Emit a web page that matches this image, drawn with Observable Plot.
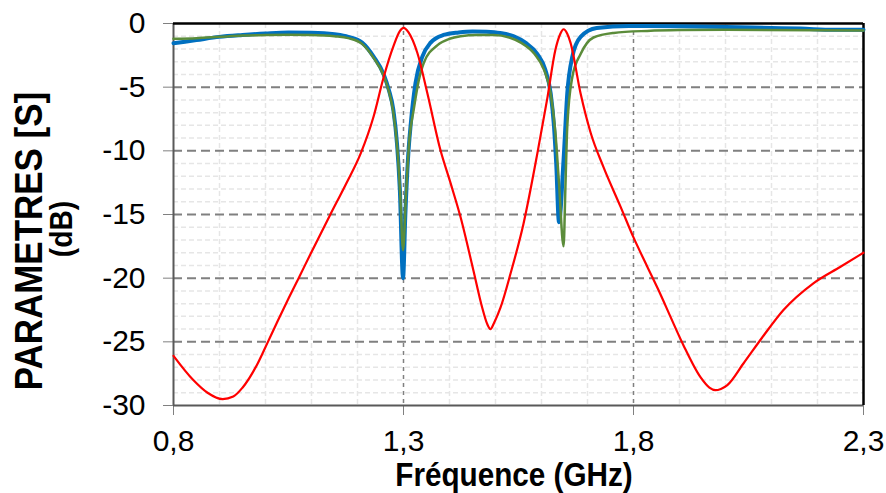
<!DOCTYPE html>
<html>
<head>
<meta charset="utf-8">
<script src="https://cdn.jsdelivr.net/npm/d3@7"></script>
<script src="https://cdn.jsdelivr.net/npm/@observablehq/plot@0.6"></script>
<style>
  html, body { margin: 0; padding: 0; background: #fff; }
  #chart { width: 886px; height: 493px; }
</style>
</head>
<body>
<div id="chart"></div>
<script>
// ---- Data ----
const xTicks = [0.8, 1.3, 1.8, 2.3];
const yTicks = [0, -5, -10, -15, -20, -25, -30];
const xMinor = [0.9, 1.0, 1.1, 1.2, 1.4, 1.5, 1.6, 1.7, 1.9, 2.0, 2.1, 2.2];
const xMajorGrid = [1.3, 1.8];
const yMajorGrid = [-5, -10, -15, -20, -25];
const yMinor = [-1,-2,-3,-4,-6,-7,-8,-9,-11,-12,-13,-14,-16,-17,-18,-19,-21,-22,-23,-24,-26,-27,-28,-29];

// Blue curve (freq GHz, dB)
const blueX = [0.80,0.85,0.90,0.95,1.00,1.05,1.10,1.15,1.18,1.21,1.235,1.257,1.268,1.278,1.286,1.292,1.299,1.304,1.310,1.316,1.326,1.341,1.359,1.387,1.42,1.45,1.48,1.51,1.54,1.565,1.591,1.608,1.620,1.627,1.632,1.638,1.648,1.656,1.667,1.685,1.72,1.79,1.90,2.00,2.10,2.163,2.235,2.30];
const blueY = [-1.55,-1.3,-1.05,-0.9,-0.78,-0.7,-0.72,-0.85,-1.05,-1.5,-2.6,-4.0,-5.2,-6.8,-9.5,-13.0,-20.0,-15.0,-10.5,-7.8,-4.7,-2.6,-1.5,-0.9,-0.7,-0.62,-0.65,-0.75,-1.0,-1.5,-2.4,-3.6,-5.5,-8.0,-11.0,-15.6,-10.7,-5.5,-2.6,-1.05,-0.35,-0.2,-0.22,-0.27,-0.35,-0.4,-0.5,-0.5];

// Green curve
const greenX = [0.80,0.85,0.90,0.95,1.00,1.05,1.10,1.15,1.18,1.21,1.235,1.257,1.268,1.278,1.287,1.293,1.299,1.306,1.313,1.322,1.333,1.344,1.374,1.40,1.424,1.46,1.496,1.53,1.555,1.585,1.605,1.620,1.630,1.638,1.648,1.652,1.656,1.667,1.685,1.713,1.757,1.83,1.90,2.00,2.30];
const greenY = [-1.2,-1.15,-1.05,-0.95,-0.9,-0.88,-0.9,-1.0,-1.15,-1.6,-2.7,-4.1,-5.3,-7.0,-10.0,-13.5,-17.8,-13.0,-9.0,-6.8,-4.5,-3.1,-1.7,-1.2,-1.0,-0.9,-0.9,-1.1,-1.5,-2.4,-3.6,-5.5,-8.5,-12.5,-17.5,-12.8,-8.1,-4.2,-2.4,-1.1,-0.74,-0.58,-0.52,-0.5,-0.55];

// Red curve
const redX = [0.80,0.843,0.874,0.907,0.93,0.95,0.983,1.004,1.026,1.05,1.072,1.102,1.141,1.175,1.207,1.235,1.257,1.278,1.292,1.30,1.311,1.33,1.352,1.38,1.402,1.424,1.452,1.471,1.482,1.489,1.497,1.511,1.533,1.561,1.591,1.613,1.630,1.641,1.648,1.656,1.663,1.685,1.707,1.735,1.772,1.80,1.830,1.859,1.88,1.909,1.946,1.965,1.978,1.99,2.004,2.039,2.083,2.126,2.191,2.25,2.30];
const redY = [-26.1,-28.0,-29.0,-29.5,-29.3,-28.6,-26.7,-25.1,-23.4,-21.6,-20.0,-17.8,-15.0,-12.6,-10.2,-7.3,-4.2,-1.8,-0.6,-0.35,-0.7,-2.3,-5.5,-9.9,-12.5,-15.2,-19.4,-22.3,-23.6,-24.0,-23.5,-22.3,-19.6,-15.7,-10.2,-5.8,-2.1,-0.8,-0.45,-0.8,-1.5,-5.5,-8.6,-11.3,-14.4,-16.8,-19.1,-21.3,-23.0,-25.3,-27.8,-28.6,-28.8,-28.7,-28.4,-26.7,-24.5,-22.5,-20.4,-19.1,-18.0];

const toPts = (xs, ys) => xs.map((x, i) => ({x, y: ys[i]}));
const blue = toPts(blueX, blueY);
const green = toPts(greenX, greenY);
const red = toPts(redX, redY);

const fmtX = d => d.toFixed(1).replace(".", ",");
const fmtY = d => String(d);

const plot = Plot.plot({
  width: 886,
  height: 493,
  marginLeft: 173,
  marginRight: 23,
  marginTop: 23,
  marginBottom: 88,
  style: {fontFamily: "'Liberation Sans', Arial, sans-serif", fontSize: "30px", background: "#fff", color: "#000"},
  x: {domain: [0.8, 2.3]},
  y: {domain: [-30, 0]},
  marks: [
    // minor grid
    Plot.ruleY(yMinor, {stroke: "#e6e6e6", strokeWidth: 1.5, strokeDasharray: "5,3"}),
    Plot.ruleX(xMinor, {stroke: "#e6e6e6", strokeWidth: 1.5, strokeDasharray: "5,3"}),
    // major grid
    Plot.ruleY(yMajorGrid, {stroke: "#808080", strokeWidth: 2, strokeDasharray: "9,5"}),
    Plot.ruleX(xMajorGrid, {stroke: "#808080", strokeWidth: 1.5, strokeDasharray: "4,4"}),
    // axes
    Plot.axisY({ticks: yTicks, tickFormat: fmtY, tickSize: 10, tickPadding: 18, stroke: "#808080", fill: "#000", fontSize: 30, label: null}),
    Plot.axisX({ticks: xTicks, tickFormat: fmtX, tickSize: 10, tickPadding: 14, stroke: "#808080", fill: "#000", fontSize: 30, label: null}),
    // frame
    Plot.ruleX([0.8], {stroke: "#595959", strokeWidth: 2}),
    Plot.ruleY([-30], {stroke: "#595959", strokeWidth: 2}),
    Plot.ruleY([0], {stroke: "#000", strokeWidth: 2.5}),
    Plot.ruleX([2.3], {stroke: "#000", strokeWidth: 2.5}),
    // curves
    Plot.line(blue, {x: "x", y: "y", stroke: "#0070C0", strokeWidth: 4, curve: "monotone-x"}),
    Plot.line(green, {x: "x", y: "y", stroke: "#5B8C3A", strokeWidth: 2.5, curve: "monotone-x"}),
    Plot.line(red, {x: "x", y: "y", stroke: "#FF0000", strokeWidth: 2.2, curve: "monotone-x"})
  ]
});

document.getElementById("chart").appendChild(plot);

// titles
const svg = d3.select(plot);
const fam = "'Liberation Sans', Arial, sans-serif";
svg.append("text")
  .attr("transform", "translate(514,486) scale(0.9,1)")
  .attr("text-anchor", "middle")
  .attr("font-family", fam)
  .attr("font-weight", "bold")
  .attr("font-size", 33)
  .attr("fill", "#000")
  .text("Fréquence (GHz)");
svg.append("text")
  .attr("transform", "translate(42,241) rotate(-90) scale(0.92,1)")
  .attr("text-anchor", "middle")
  .attr("font-family", fam)
  .attr("font-weight", "bold")
  .attr("font-size", 38)
  .attr("fill", "#000")
  .text("PARAMETRES [S]");
svg.append("text")
  .attr("transform", "translate(72,229) rotate(-90) scale(0.88,1)")
  .attr("text-anchor", "middle")
  .attr("font-family", fam)
  .attr("font-weight", "bold")
  .attr("font-size", 32)
  .attr("fill", "#000")
  .text("(dB)");
</script>
</body>
</html>
